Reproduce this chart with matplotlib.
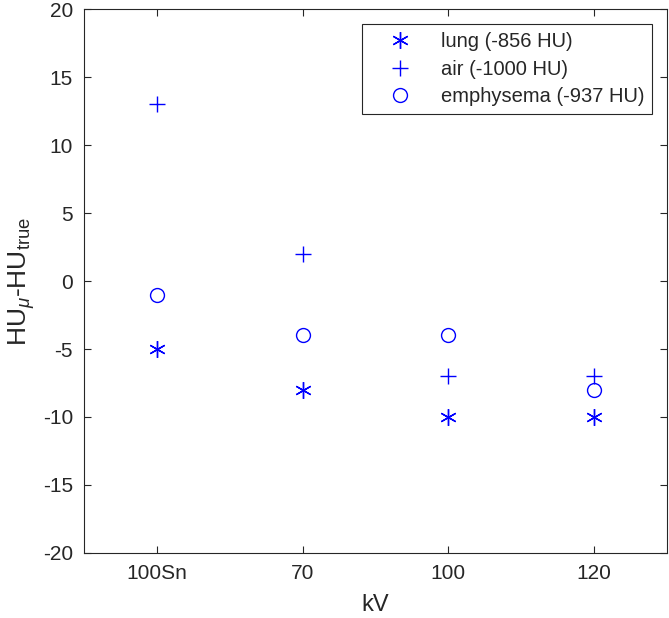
import matplotlib
matplotlib.use("Agg")
import matplotlib.pyplot as plt

plt.rcParams['font.family'] = ['Liberation Sans', 'DejaVu Sans']
plt.rcParams['mathtext.fontset'] = 'custom'
plt.rcParams['mathtext.rm'] = 'Liberation Sans'
plt.rcParams['mathtext.it'] = 'Liberation Sans:italic'
plt.rcParams['axes.unicode_minus'] = False

# data
kv_labels = ['100Sn', '70', '100', '120']
lung = [-5, -8, -10, -10]
air = [13, 2, -7, -7]
emphysema = [-1, -4, -4, -8]

axis_color = '#262626'
x = list(range(1, len(kv_labels) + 1))

fig = plt.figure(figsize=(6.69, 6.18), dpi=100)
ax = fig.add_axes([0.1256, 0.1052, 0.8714, 0.8802])

ax.plot(x, lung, linestyle='none', marker=(6, 2, 0), markersize=12,
        markeredgewidth=1.0, color='b', label='lung (-856 HU)')
ax.plot(x, air, linestyle='none', marker='+', markersize=12,
        markeredgewidth=1.0, color='b', label='air (-1000 HU)')
ax.plot(x, emphysema, linestyle='none', marker='o', markersize=10,
        markeredgewidth=1.0, markerfacecolor='none', color='b',
        label='emphysema (-937 HU)')

ax.set_xlim(0.5, 4.5)
ax.set_ylim(-20, 20)
ax.set_xticks(x)
ax.set_xticklabels(kv_labels)
ax.set_yticks(range(-20, 21, 5))

ax.tick_params(direction='in', length=5, width=0.8, colors=axis_color,
               labelsize=15, top=True, right=True, pad=8)
for s in ax.spines.values():
    s.set_color(axis_color)
    s.set_linewidth(0.8)

ax.set_xlabel('kV', fontsize=17, color=axis_color, labelpad=8)
ax.set_ylabel(r'HU$_{\mu}$-HU$_{\mathrm{true}}$', fontsize=19,
              color=axis_color, labelpad=4)

leg = ax.legend(loc='upper right', fontsize=14.5, frameon=True, fancybox=False,
                edgecolor=axis_color, framealpha=1, borderaxespad=0.74,
                handletextpad=0.46, labelspacing=0.43, borderpad=0.4,
                handlelength=3.06)
leg.get_frame().set_linewidth(0.8)
for t in leg.get_texts():
    t.set_color(axis_color)

fig.savefig('out.png', dpi=100)
